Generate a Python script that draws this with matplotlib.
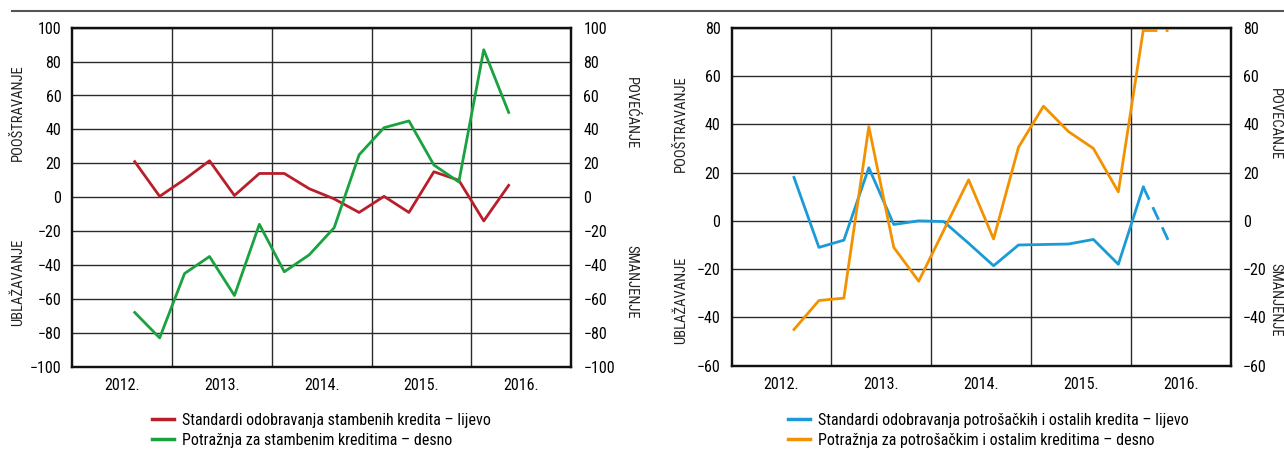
import matplotlib
matplotlib.use("Agg")
import matplotlib.pyplot as plt
from matplotlib import font_manager
from matplotlib.lines import Line2D
import numpy as np

# Pick a narrow font if one is installed
available = {f.name for f in font_manager.fontManager.ttflist}
FONT = next((f for f in ["Liberation Sans Narrow", "Roboto Condensed", "DejaVu Sans"]
             if f in available), "DejaVu Sans")
plt.rcParams["font.family"] = [FONT, "DejaVu Sans"]
plt.rcParams["axes.unicode_minus"] = True

# Data: quarterly survey, Q3 2012 .. Q2 2016 (quarter index 2..17 from Q1 2012)
years = [2012, 2013, 2014, 2015, 2016]
year_labels = ["2012.", "2013.", "2014.", "2015.", "2016."]
quarter_idx = list(range(2, 18))

housing_standards = [21, 0.5, 10.5, 21.5, 1, 14, 14, 5, -1, -9, 0.5, -9, 15, 10, -14, 7]
housing_demand = [-68, -83, -45, -35, -58, -16, -44, -34, -18, 25, 41, 45, 19, 9, 87, 50]

consumer_standards = [18, -11, -8, 22, -1.5, 0, -0.3, -9.3, -18.6, -10, -9.8, -9.6, -7.7, -18, 14, -8]
consumer_demand = [-45, -33, -32, 39, -11, -25, -4, 17, -7.5, 30.5, 47.5, 37, 30, 12, 79, 79]

labels_left = ["Standardi odobravanja stambenih kredita – lijevo",
               "Potražnja za stambenim kreditima – desno"]
labels_right = ["Standardi odobravanja potrošačkih i ostalih kredita – lijevo",
                "Potražnja za potrošačkim i ostalim kreditima – desno"]

RED = "#B81F2A"
GREEN = "#19A23F"
BLUE = "#1A9BD7"
ORANGE = "#F39200"
GRID = "#2b2b2b"
W, H = 1284, 470

x = np.array([years[0] + (q + 0.5) / 4 for q in quarter_idx])


def setup(ax, lo, hi, step):
    axr = ax.twinx()
    for a in (ax, axr):
        a.set_ylim(lo, hi)
        a.set_yticks(np.arange(lo, hi + 1, step))
        a.set_xlim(years[0], years[-1] + 1)
        a.tick_params(axis="y", length=0, labelsize=11.5)
        for s in a.spines.values():
            s.set_linewidth(1.6)
            s.set_color("#111111")
    ax.tick_params(axis="y", pad=8)
    axr.tick_params(axis="y", pad=9)
    ax.set_xticks([y + 0.5 for y in years])
    ax.set_xticklabels(year_labels)
    ax.set_xticks(years[1:], minor=True)
    ax.tick_params(axis="x", which="both", length=0, labelsize=11.5, pad=8)
    ax.grid(True, axis="y", color=GRID, lw=1.0)
    ax.grid(True, axis="x", which="minor", color=GRID, lw=1.0)
    ax.grid(False, axis="x", which="major")
    ax.set_axisbelow(True)
    return axr


def side_label(xp, yp, text, rot):
    fig.text(xp / W, 1 - yp / H, text, rotation=rot, ha="center", va="center",
             fontsize=10.5, color="#222222")


fig = plt.figure(figsize=(W / 100, H / 100), dpi=100)

# Left panel: housing loans
ax1 = fig.add_axes([72.4 / W, 1 - 366.7 / H, (571 - 72.4) / W, (366.7 - 27.7) / H])
ax1r = setup(ax1, -100, 100, 20)
ax1.plot(x, housing_standards, color=RED, lw=2.0)
ax1r.plot(x, housing_demand, color=GREEN, lw=2.0)

# Right panel: consumer loans (last quarter dashed)
ax2 = fig.add_axes([731.6 / W, 1 - 365.7 / H, (1230.6 - 731.6) / W, (365.7 - 27.7) / H])
ax2r = setup(ax2, -60, 80, 20)
ax2.plot(x[:-1], consumer_standards[:-1], color=BLUE, lw=2.0)
ax2.plot(x[-2:], consumer_standards[-2:], color=BLUE, lw=2.0, dashes=(5, 3))
ax2r.plot(x[:-1], consumer_demand[:-1], color=ORANGE, lw=2.0)
ax2r.plot(x[-2:], consumer_demand[-2:], color=ORANGE, lw=2.0, dashes=(5, 3))

# Direction labels
side_label(17.7, 113, "POOŠTRAVANJE", 90)
side_label(17.7, 282, "UBLAŽAVANJE", 90)
side_label(631, 113, "POVEĆANJE", -90)
side_label(631, 282, "SMANJENJE", -90)
side_label(681, 124, "POOŠTRAVANJE", 90)
side_label(681, 300, "UBLAŽAVANJE", 90)
side_label(1275, 124, "POVEĆANJE", -90)
side_label(1275, 300, "SMANJENJE", -90)

# Top rule
fig.add_artist(Line2D([12 / W, 1], [1 - 11 / H] * 2, color="#555555", lw=1.5))

# Legends
for (xl, handles_c, labels) in [(152, (RED, GREEN), labels_left),
                                (788, (BLUE, ORANGE), labels_right)]:
    handles = [Line2D([], [], color=c, lw=2.5) for c in handles_c]
    fig.legend(handles, labels, loc="upper left",
               bbox_to_anchor=(xl / W, 1 - 413 / H), frameon=False,
               fontsize=11.5, handlelength=1.35, handletextpad=0.5,
               labelspacing=0.3, borderpad=0, borderaxespad=0)

fig.savefig("out.png", dpi=100)
